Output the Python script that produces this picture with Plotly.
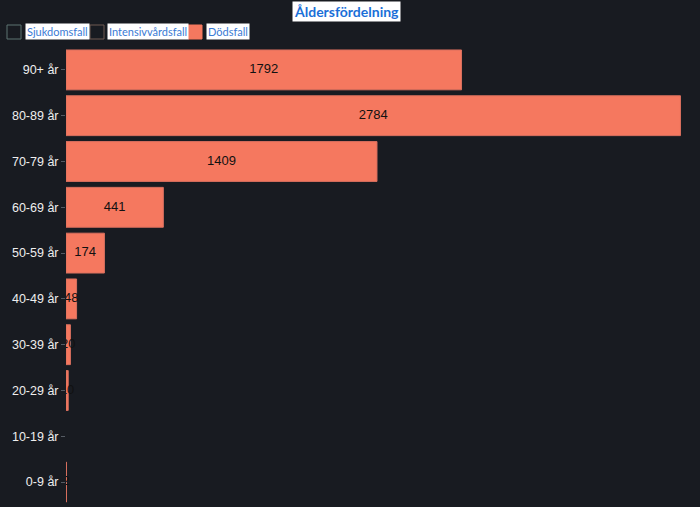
import plotly.graph_objects as go

categories = ["90+ år", "80-89 år", "70-79 år", "60-69 år", "50-59 år",
              "40-49 år", "30-39 år", "20-29 år", "10-19 år", "0-9 år"]
dodsfall = [1792, 2784, 1409, 441, 174, 48, 20, 10, None, 2]
legend_labels = ["Sjukdomsfall", "Intensivvårdsfall", "Dödsfall"]
title_text = "Åldersfördelning"

BG = "#181b21"
BAR = "#f5785f"
W, H = 700, 507
ML, MR, MT, MB = 66, 16, 47, 2
PW, PH = W - ML - MR, H - MT - MB

def px(x):
    return (x - ML) / PW

def py(y):
    return (H - MB - y) / PH

fig = go.Figure()
fig.add_trace(go.Bar(
    y=categories, x=dodsfall, orientation="h", name=legend_labels[2],
    marker=dict(color=BAR, line=dict(color="#d9705f", width=1)),
    width=0.87, showlegend=False, hoverinfo="x+y",
))
fig.add_trace(go.Scatter(
    y=[c for c, v in zip(categories, dodsfall) if v is not None],
    x=[v / 2 for v in dodsfall if v is not None],
    text=[str(v) for v in dodsfall if v is not None],
    mode="text", textfont=dict(color="#111111", size=13, family="Liberation Sans, Arial"),
    showlegend=False, hoverinfo="skip",
))

fig.update_layout(
    width=W, height=H, margin=dict(l=ML, r=MR, t=MT, b=MB),
    paper_bgcolor=BG, plot_bgcolor=BG, showlegend=False,
    xaxis=dict(range=[0, 2800], visible=False, fixedrange=True),
    yaxis=dict(categoryorder="array", categoryarray=categories[::-1],
               showgrid=False, zeroline=False, showline=False,
               ticks="outside", ticklen=4, tickcolor="#555b63",
               tickfont=dict(color="#eeeeee", size=12.5, family="Liberation Sans, Arial"),
               fixedrange=True),
)

# title with white background
fig.add_annotation(text="<b>" + title_text + "</b>", xref="paper", yref="paper",
                   x=px(346), y=py(11), xanchor="center", yanchor="middle",
                   showarrow=False, bgcolor="white", borderpad=1,
                   font=dict(color="#1a6fd8", size=14, family="Lato"))

# custom legend
box_x = [7, 90, 188]
text_x = [25, 107, 206]
box_fill = [BG, BG, BAR]
box_line = ["#5d7573", "#6e5b52", BAR]
for i, lab in enumerate(legend_labels):
    fig.add_shape(type="rect", xref="paper", yref="paper",
                  x0=px(box_x[i]), x1=px(box_x[i] + 14),
                  y0=py(39), y1=py(25),
                  fillcolor=box_fill[i], line=dict(color=box_line[i], width=1))
    fig.add_annotation(text=lab, xref="paper", yref="paper",
                       x=px(text_x[i]), y=py(31.5), xanchor="left", yanchor="middle",
                       showarrow=False, bgcolor="white", borderpad=1,
                       font=dict(color="#3a7bd5", size=11, family="Lato"))

fig.write_html("out.html")
